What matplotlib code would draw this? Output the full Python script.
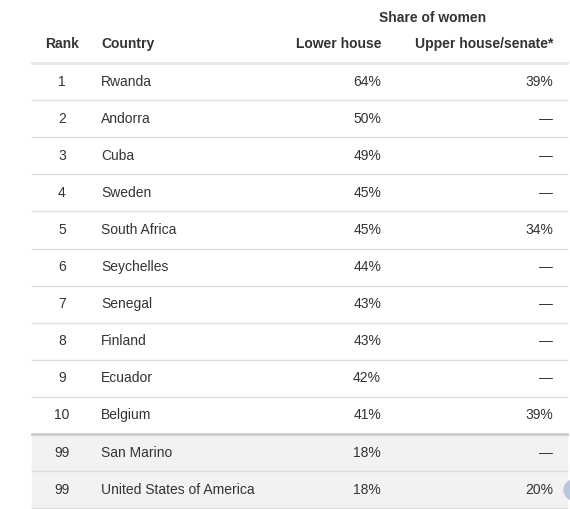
import matplotlib
matplotlib.use("Agg")
import matplotlib.pyplot as plt
from matplotlib.patches import Rectangle, Circle

plt.rcParams['font.family'] = ['Liberation Sans', 'DejaVu Sans']

ranks = ["1", "2", "3", "4", "5", "6", "7", "8", "9", "10", "99", "99"]
countries = ["Rwanda", "Andorra", "Cuba", "Sweden", "South Africa", "Seychelles",
             "Senegal", "Finland", "Ecuador", "Belgium", "San Marino", "United States of America"]
lower = ["64%", "50%", "49%", "45%", "45%", "44%", "43%", "43%", "42%", "41%", "18%", "18%"]
upper = ["39%", "—", "—", "—", "34%", "—", "—", "—", "—", "39%", "—", "20%"]
highlighted = [False] * 10 + [True, True]

W, H = 570, 509
fig = plt.figure(figsize=(W / 100, H / 100), dpi=100)
ax = fig.add_axes([0, 0, 1, 1])
ax.set_xlim(0, W)
ax.set_ylim(H, 0)
ax.axis("off")

txt = "#333333"
fs = 10
x0, x1 = 32, 567
top = 63
rh = 37.1

ax.text(433, 18, "Share of women", ha="center", va="center", fontsize=fs, fontweight="bold", color=txt)
for x, s, ha in [(62, "Rank", "center"), (101, "Country", "left"),
                 (381, "Lower house", "right"), (553, "Upper house/senate*", "right")]:
    ax.text(x, 44, s, ha=ha, va="center", fontsize=fs, fontweight="bold", color=txt)
ax.plot([x0, x1], [top, top], color="#e6e6e6", lw=2)

for i, (r, c, lo, up) in enumerate(zip(ranks, countries, lower, upper)):
    y0 = top + i * rh
    yc = y0 + rh / 2
    if highlighted[i]:
        ax.add_patch(Rectangle((x0, y0), x1 - x0, rh, color="#f2f2f2", zorder=0))
    ax.text(62, yc, r, ha="center", va="center", fontsize=fs, color=txt)
    ax.text(101, yc, c, ha="left", va="center", fontsize=fs, color=txt)
    ax.text(381, yc, lo, ha="right", va="center", fontsize=fs, color=txt)
    ax.text(553, yc, up, ha="right", va="center", fontsize=fs, color=txt)
    yb = y0 + rh
    lw = 2 if i == 9 else 1
    col = "#cccccc" if i == 9 else "#dddddd"
    ax.plot([x0, x1], [yb, yb], color=col, lw=lw)

ax.add_patch(Circle((574, 490), 10, color="#b8c8e0", clip_on=True))

fig.savefig("out.png", dpi=100)
